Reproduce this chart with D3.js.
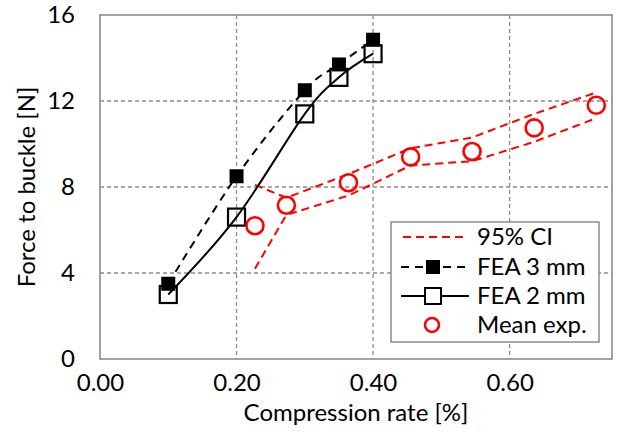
<!DOCTYPE html>
<html><head><meta charset="utf-8">
<script src="https://cdn.jsdelivr.net/npm/d3@7"></script>
<style>
html,body{margin:0;padding:0;background:#fff;}
text{font-family:Lato,"Open Sans",sans-serif;fill:#000;}
</style></head>
<body><svg id="chart" width="617" height="439"></svg>
<script>
// ---- data ----
const feaX = [0.10, 0.20, 0.30, 0.35, 0.40];
const fea3mm = [3.5, 8.5, 12.5, 13.7, 14.85];
const fea2mm = [3.0, 6.6, 11.4, 13.1, 14.2];
const expX = [0.227, 0.273, 0.364, 0.455, 0.545, 0.636, 0.727];
const meanExp = [6.2, 7.15, 8.2, 9.4, 9.65, 10.75, 11.8];
const ciUpper = [8.1, 7.5, 8.6, 9.8, 10.3, 11.4, 12.4];
const ciLower = [4.2, 6.7, 7.6, 9.0, 9.2, 10.1, 11.2];
const xTicks = [0, 0.2, 0.4, 0.6];
const yTicks = [0, 4, 8, 12, 16];
const legendLabels = ["95% CI", "FEA 3 mm", "FEA 2 mm", "Mean exp."];

const svg = d3.select("#chart");
const L = 100, R = 612, T = 15, B = 359;
const x = d3.scaleLinear().domain([0, 0.75]).range([L, R]);
const y = d3.scaleLinear().domain([0, 16]).range([B, T]);
const grid = "#8c8c8c";
const FS = 24;

// gridlines
svg.append("g").selectAll("line").data(xTicks.filter(d => d > 0)).join("line")
  .attr("x1", d => x(d)).attr("x2", d => x(d)).attr("y1", T).attr("y2", B)
  .attr("stroke", grid).attr("stroke-width", 1.3).attr("stroke-dasharray", "4,3");
svg.append("g").selectAll("line").data(yTicks.filter(d => d > 0 && d < 16)).join("line")
  .attr("y1", d => y(d)).attr("y2", d => y(d)).attr("x1", L).attr("x2", R)
  .attr("stroke", grid).attr("stroke-width", 1.3).attr("stroke-dasharray", "4,3");
// plot border
svg.append("rect").attr("x", L).attr("y", T).attr("width", R - L).attr("height", B - T)
  .attr("fill", "none").attr("stroke", grid).attr("stroke-width", 1.6);

// axes labels via d3 axes (no lines)
const xAxis = svg.append("g").attr("transform", `translate(0,${B})`)
  .call(d3.axisBottom(x).tickValues(xTicks).tickFormat(d3.format(".2f")).tickSize(0).tickPadding(15));
xAxis.select(".domain").remove();
xAxis.selectAll("text").attr("font-size", FS).attr("font-family", "Lato").attr("dy", "0.71em");
const yAxis = svg.append("g").attr("transform", `translate(${L},0)`)
  .call(d3.axisLeft(y).tickValues(yTicks).tickFormat(d3.format("d")).tickSize(0).tickPadding(25));
yAxis.select(".domain").remove();
yAxis.selectAll("text").attr("font-size", FS).attr("font-family", "Lato");

svg.append("text").attr("x", (L + R) / 2).attr("y", 421).attr("text-anchor", "middle")
  .attr("font-size", FS).text("Compression rate [%]");
svg.append("text").attr("transform", `translate(35,${(T + B) / 2}) rotate(-90)`).attr("text-anchor", "middle")
  .attr("font-size", FS).text("Force to buckle [N]");

// CI lines
const straight = d3.line().x(d => x(d[0])).y(d => y(d[1]));
[ciUpper, ciLower].forEach(arr => {
  svg.append("path").datum(expX.map((v, i) => [v, arr[i]]))
    .attr("d", straight).attr("fill", "none").attr("stroke", "#ff0000")
    .attr("stroke-width", 2).attr("stroke-dasharray", "8,5");
});

// FEA lines
const smooth = d3.line().x(d => x(d[0])).y(d => y(d[1])).curve(d3.curveCardinal.tension(0));
svg.append("path").datum(feaX.map((v, i) => [v, fea3mm[i]]))
  .attr("d", smooth).attr("fill", "none").attr("stroke", "#000").attr("stroke-width", 2)
  .attr("stroke-dasharray", "8,6");
svg.selectAll(".sq3").data(feaX.map((v, i) => [v, fea3mm[i]])).join("rect")
  .attr("x", d => x(d[0]) - 7).attr("y", d => y(d[1]) - 7).attr("width", 14).attr("height", 14)
  .attr("fill", "#000");
svg.append("path").datum(feaX.map((v, i) => [v, fea2mm[i]]))
  .attr("d", smooth).attr("fill", "none").attr("stroke", "#000").attr("stroke-width", 2);
svg.selectAll(".sq2").data(feaX.map((v, i) => [v, fea2mm[i]])).join("rect")
  .attr("x", d => x(d[0]) - 8.5).attr("y", d => y(d[1]) - 8.5).attr("width", 17).attr("height", 17)
  .attr("fill", "none").attr("stroke", "#000").attr("stroke-width", 2.2);

// mean exp circles
svg.selectAll(".ci").data(expX.map((v, i) => [v, meanExp[i]])).join("circle")
  .attr("cx", d => x(d[0])).attr("cy", d => y(d[1])).attr("r", 8.5)
  .attr("fill", "none").attr("stroke", "#ff0000").attr("stroke-width", 2.6);

// legend
const lg = svg.append("g");
lg.append("rect").attr("x", 391).attr("y", 222).attr("width", 208).attr("height", 120)
  .attr("fill", "#fff").attr("stroke", grid).attr("stroke-width", 1.5);
const rowY = [237, 267, 296, 325];
const lx1 = 401, lx2 = 465, lc = 433;
// 95% CI
lg.append("line").attr("x1", lx1 + 2).attr("x2", lx2).attr("y1", rowY[0]).attr("y2", rowY[0])
  .attr("stroke", "#ff0000").attr("stroke-width", 2).attr("stroke-dasharray", "8,5");
// FEA 3 mm
lg.append("line").attr("x1", lx1).attr("x2", lx2).attr("y1", rowY[1]).attr("y2", rowY[1])
  .attr("stroke", "#000").attr("stroke-width", 2).attr("stroke-dasharray", "8,6");
lg.append("rect").attr("x", lc - 7).attr("y", rowY[1] - 7).attr("width", 14).attr("height", 14).attr("fill", "#000");
// FEA 2 mm
lg.append("line").attr("x1", lx1).attr("x2", lx2 + 4).attr("y1", rowY[2]).attr("y2", rowY[2])
  .attr("stroke", "#000").attr("stroke-width", 2);
lg.append("rect").attr("x", lc - 8).attr("y", rowY[2] - 8).attr("width", 16).attr("height", 16)
  .attr("fill", "#fff").attr("stroke", "#000").attr("stroke-width", 2);
// Mean exp
lg.append("circle").attr("cx", lc - 1).attr("cy", rowY[3]).attr("r", 7)
  .attr("fill", "none").attr("stroke", "#ff0000").attr("stroke-width", 2.6);
lg.selectAll(".lt").data(legendLabels).join("text")
  .attr("x", 477).attr("y", (d, i) => rowY[i]).attr("dy", "0.35em")
  .attr("font-size", FS).text(d => d);
</script></body></html>
